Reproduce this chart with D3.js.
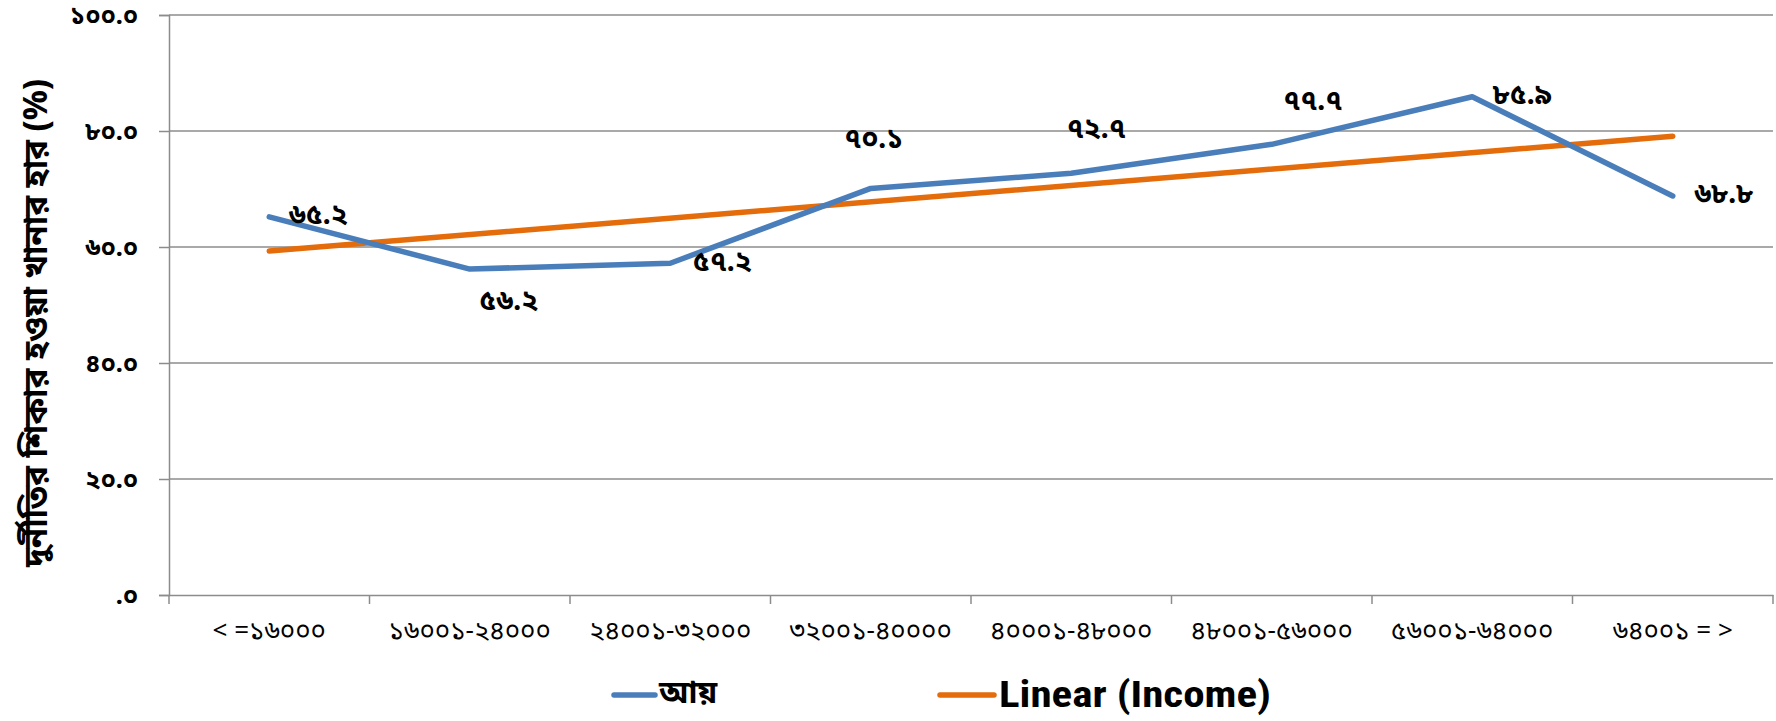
<!DOCTYPE html>
<html>
<head>
<meta charset="utf-8">
<script src="https://cdn.jsdelivr.net/npm/d3@7"></script>
<style>
  html, body { margin: 0; padding: 0; background: #fff; }
  svg { display: block; }
  .bn { font-family: "Noto Sans Bengali", "Lohit Bengali", "Vrinda", "FreeSans", "Noto Sans", sans-serif; }
</style>
</head>
<body>
<svg id="chart" width="1776" height="721"></svg>
<script>
// Income groups (monthly household income, Taka)
const categories = [
  "< =১৬০০০", "১৬০০১-২৪০০০", "২৪০০১-৩২০০০", "৩২০০১-৪০০০০",
  "৪০০০১-৪৮০০০", "৪৮০০১-৫৬০০০", "৫৬০০১-৬৪০০০", "৬৪০০১  = >"
];
// Share of households that faced corruption (%)
const incomeValues = [65.2, 56.2, 57.2, 70.1, 72.7, 77.7, 85.9, 68.8];
// Linear trend line, value at the first and last income group
const trendValues = [59.3, 79.1];
const yTicks = [0, 20, 40, 60, 80, 100];
const seriesNames = ["আয়", "Linear (Income)"];
const yTitle = "দুর্নীতির শিকার হওয়া খানার হার (%)";

// Data label placement relative to each point (dx, dy)
const labelShift = [[49, 0], [39, 33], [52, 0], [3, -48], [25, -43], [41, -42], [50, 0], [51, 0]];

const bnDigits = "০১২৩৪৫৬৭৮৯";
const toBn = s => String(s).replace(/[0-9]/g, d => bnDigits[+d]);
const fmtTick = v => toBn(v === 0 ? ".0" : v.toFixed(1));
const fmtLabel = v => toBn(v.toFixed(1));

const svg = d3.select("#chart");
const margin = { left: 169, right: 3, top: 15, bottom: 126 };
const W = 1776, H = 721;
const x0 = margin.left, x1 = W - margin.right;
const yTop = margin.top, yBot = H - margin.bottom;

const x = d3.scaleBand().domain(categories).range([x0, x1]).paddingInner(0).paddingOuter(0);
const y = d3.scaleLinear().domain([0, 100]).range([yBot, yTop]);
const cx = c => x(c) + x.bandwidth() / 2;

const gridColor = "#8c8c8c";

// Horizontal gridlines
svg.append("g")
  .selectAll("line")
  .data(yTicks.filter(t => t > 0))
  .join("line")
  .attr("x1", x0).attr("x2", x1)
  .attr("y1", d => y(d)).attr("y2", d => y(d))
  .attr("stroke", gridColor).attr("stroke-width", 1.5);

// Y axis
const yAxis = svg.append("g")
  .attr("transform", `translate(${x0},0)`)
  .call(d3.axisLeft(y).tickValues(yTicks).tickFormat(fmtTick).tickSize(10).tickPadding(21));
yAxis.select(".domain").attr("stroke", gridColor).attr("stroke-width", 1.5);
yAxis.selectAll(".tick line").attr("stroke", gridColor).attr("stroke-width", 1.5);
yAxis.selectAll(".tick text")
  .attr("class", "bn")
  .attr("font-size", 25).attr("font-weight", "bold").attr("fill", "#000");

// X axis
const xAxis = svg.append("g")
  .attr("transform", `translate(0,${yBot})`)
  .call(d3.axisBottom(x).tickSizeOuter(0).tickSize(0).tickPadding(26));
xAxis.select(".domain").attr("stroke", gridColor).attr("stroke-width", 1.5);
xAxis.selectAll(".tick text")
  .attr("class", "bn")
  .attr("font-size", 26).attr("font-weight", "normal").attr("fill", "#000");
// Category boundary tick marks
svg.append("g")
  .selectAll("line")
  .data(categories.concat([null]))
  .join("line")
  .attr("x1", (d, i) => i < categories.length ? x(d) : x1)
  .attr("x2", (d, i) => i < categories.length ? x(d) : x1)
  .attr("y1", yBot).attr("y2", yBot + 9)
  .attr("stroke", gridColor).attr("stroke-width", 1.5);

// Y axis title
svg.append("text")
  .attr("class", "bn")
  .attr("transform", `translate(38,${(yTop + yBot) / 2 + 18}) rotate(-90)`)
  .attr("text-anchor", "middle")
  .attr("dominant-baseline", "central")
  .attr("font-size", 33).attr("font-weight", "bold")
  .text(yTitle);

// Trend line
const trendPts = [[cx(categories[0]), y(trendValues[0])], [cx(categories[categories.length - 1]), y(trendValues[1])]];
svg.append("path")
  .attr("d", d3.line()(trendPts))
  .attr("fill", "none").attr("stroke", "#e46c0a").attr("stroke-width", 5.5)
  .attr("stroke-linecap", "round");

// Income series line
svg.append("path")
  .datum(incomeValues)
  .attr("d", d3.line().x((d, i) => cx(categories[i])).y(d => y(d)))
  .attr("fill", "none").attr("stroke", "#4a7ebb").attr("stroke-width", 5.5)
  .attr("stroke-linecap", "round").attr("stroke-linejoin", "round");

// Data labels
svg.append("g")
  .selectAll("text")
  .data(incomeValues)
  .join("text")
  .attr("class", "bn")
  .attr("x", (d, i) => cx(categories[i]) + labelShift[i][0])
  .attr("y", (d, i) => y(d) + labelShift[i][1])
  .attr("text-anchor", "middle").attr("dominant-baseline", "central")
  .attr("font-size", 28).attr("font-weight", "bold")
  .text(fmtLabel);

// Legend
const legend = svg.append("g");
legend.append("line").attr("x1", 614).attr("x2", 655).attr("y1", 695).attr("y2", 695)
  .attr("stroke", "#4a7ebb").attr("stroke-width", 5.5).attr("stroke-linecap", "round");
legend.append("text").attr("class", "bn").attr("x", 659).attr("y", 695)
  .attr("dominant-baseline", "central").attr("font-size", 32).attr("font-weight", "bold")
  .text(seriesNames[0]);
legend.append("line").attr("x1", 940).attr("x2", 994).attr("y1", 695).attr("y2", 695)
  .attr("stroke", "#e46c0a").attr("stroke-width", 5.5).attr("stroke-linecap", "round");
legend.append("text").attr("x", 999).attr("y", 695)
  .attr("dominant-baseline", "central")
  .attr("font-family", "'Liberation Sans Narrow', 'Roboto Condensed', 'Open Sans', sans-serif")
  .attr("font-size", 36).attr("font-weight", "bold")
  .attr("textLength", 272).attr("lengthAdjust", "spacingAndGlyphs")
  .text(seriesNames[1]);
</script>
</body>
</html>
